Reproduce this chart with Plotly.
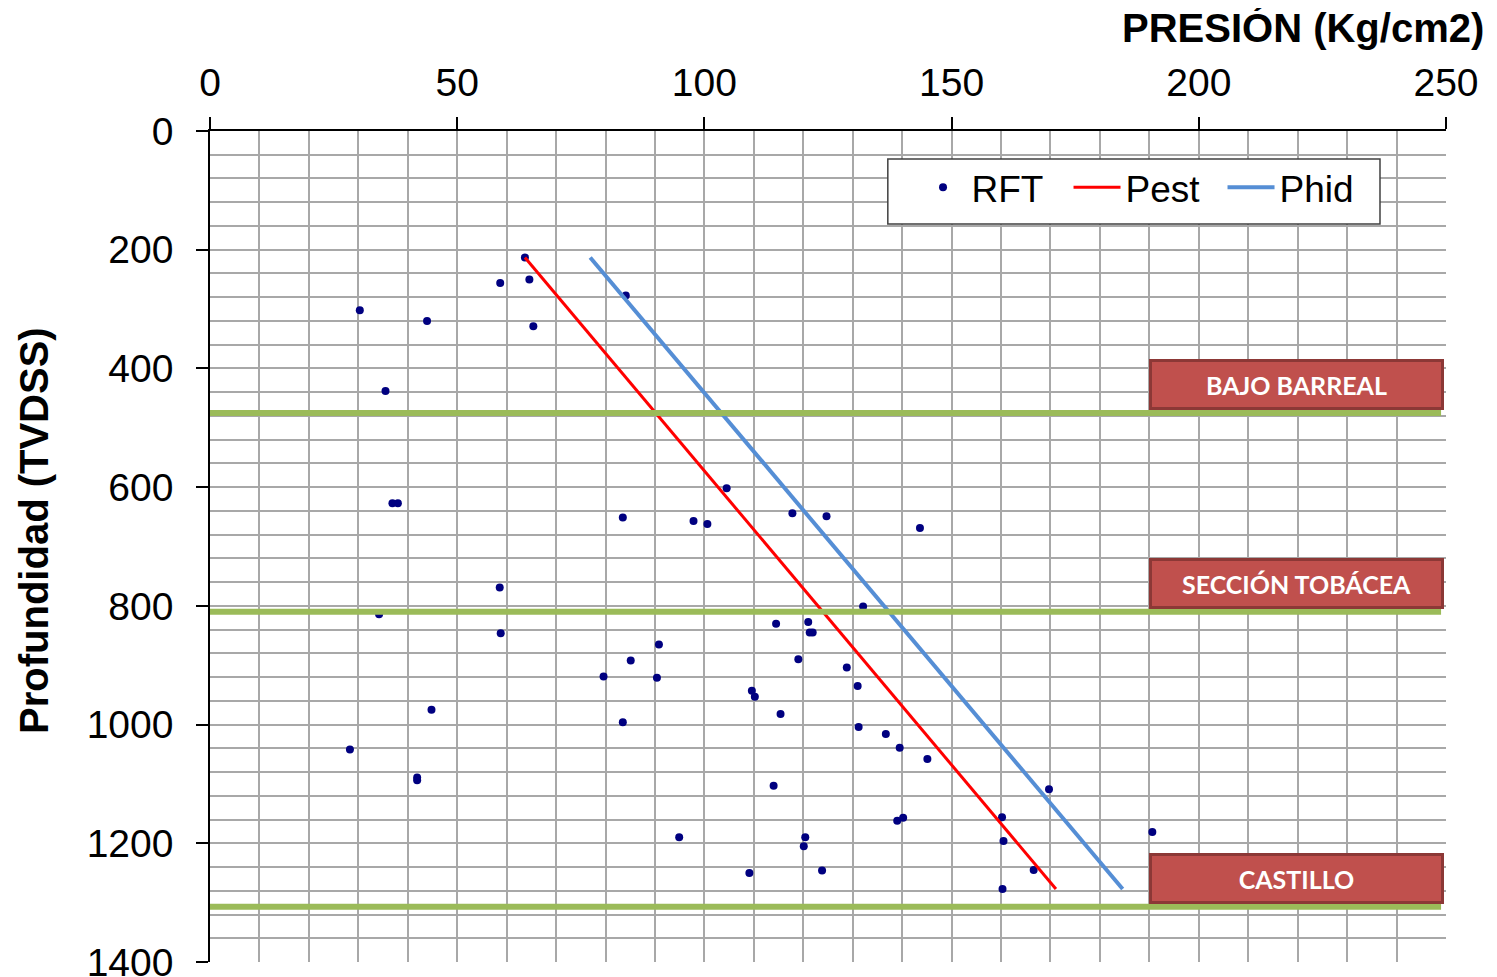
import plotly.graph_objects as go

# RFT pressure points (Kg/cm2) vs depth (TVDSS)
rft_pressure = [
    63.7, 58.7, 64.6, 84.1, 30.3, 43.9, 65.4, 35.5, 104.5, 83.5,
    97.8, 100.6, 117.8, 124.7, 143.6, 36.9, 38.0, 58.6, 34.2, 58.8,
    132.1, 114.5, 121.0, 121.3, 121.9, 90.8, 85.1, 79.6, 90.4, 119.0,
    128.8, 131.0, 109.6, 110.2, 115.4, 83.5, 131.2, 136.7, 139.5, 145.1,
    44.8, 28.3, 41.9, 41.9, 114.0, 169.7, 160.2, 139.0, 140.2, 94.9,
    120.4, 120.1, 160.5, 166.6, 109.1, 123.8, 160.3, 190.6,
]
rft_depth = [
    213, 256, 250, 277, 302, 320, 329, 438, 602, 651,
    657, 662, 644, 649, 669, 627, 627, 769, 814, 846,
    801, 830, 827, 845, 845, 865, 892, 919, 921, 890,
    904, 935, 943, 953, 982, 996, 1004, 1016, 1039, 1058,
    975, 1042, 1089, 1094, 1103, 1109, 1156, 1162, 1157, 1190,
    1190, 1205, 1196, 1245, 1250, 1246, 1277, 1181,
]

# gradient lines (two end points each)
pest_pressure = [63.7, 171.1]
pest_depth = [213, 1277]
phid_pressure = [76.9, 184.6]
phid_depth = [213, 1277]

# formation tops
formation_names = ["BAJO BARREAL", "SECCIÓN TOBÁCEA", "CASTILLO"]
formation_tops = [475, 810, 1307]

_GRID = "#A8A8A8"
_GREEN = "#9BBB59"
_BOX = "#C0504D"
_BOX_EDGE = "#8C3836"
_FONT = "Liberation Sans, Arial, sans-serif"

fig = go.Figure()

fig.add_trace(go.Scatter(
    x=rft_pressure,
    y=rft_depth,
    mode="markers",
    marker=dict(color="#000080", size=8),
    name="RFT",
))

# formation top lines
for top in formation_tops:
    fig.add_shape(
        type="line", xref="x", yref="y",
        x0=0, x1=249, y0=top, y1=top,
        line=dict(color=_GREEN, width=6),
    )

fig.add_trace(go.Scatter(
    x=pest_pressure,
    y=pest_depth,
    mode="lines",
    line=dict(color="#FF0000", width=3),
    name="Pest",
))

fig.add_trace(go.Scatter(
    x=phid_pressure,
    y=phid_depth,
    mode="lines",
    line=dict(color="#558ED5", width=4),
    name="Phid",
))

# formation labels
for name, top in zip(formation_names, formation_tops):
    fig.add_annotation(
        x=219.7, y=top, xref="x", yref="y",
        xanchor="center", yanchor="bottom", yshift=3,
        text=f"<b>{name}</b>",
        showarrow=False,
        font=dict(family="Lato, Open Sans, sans-serif", size=25, color="white"),
        bgcolor=_BOX,
        bordercolor=_BOX_EDGE,
        borderwidth=3,
        borderpad=0,
        width=289,
        height=45,
    )

# legend frame (drawn separately so the entries can sit where they do in the source)
fig.add_shape(
    type="rect", xref="paper", yref="paper",
    x0=0.5484, x1=0.9466, y0=0.888, y1=0.9663,
    fillcolor="white",
    line=dict(color="#404040", width=1.5),
    layer="above",
)

# axis titles
fig.add_annotation(
    x=1.032, y=1.124, xref="paper", yref="paper",
    xanchor="right", yanchor="middle",
    text="<b>PRESIÓN (Kg/cm2)</b>", showarrow=False,
    font=dict(family=_FONT, size=40, color="black"),
)
fig.add_annotation(
    x=-0.143, y=0.519, xref="paper", yref="paper",
    xanchor="center", yanchor="middle", textangle=-90,
    text="<b>Profundidad (TVDSS)</b>", showarrow=False,
    font=dict(family=_FONT, size=40, color="black"),
)

axis_common = dict(
    showline=True,
    linecolor="black",
    linewidth=1.5,
    ticks="outside",
    ticklen=12,
    tickwidth=1.5,
    tickcolor="black",
    showgrid=True,
    gridcolor=_GRID,
    gridwidth=1.5,
    zeroline=False,
    automargin=False,
    ticklabeloverflow="allow",
    tickfont=dict(family=_FONT, size=39, color="black"),
)

fig.update_xaxes(
    range=[0, 250],
    side="top",
    dtick=50,
    tick0=0,
    minor=dict(dtick=10, showgrid=True, gridcolor=_GRID, gridwidth=1.5),
    ticklabelstandoff=6,
    **axis_common,
)
fig.update_yaxes(
    range=[1400, 0],
    dtick=200,
    tick0=0,
    minor=dict(dtick=40, showgrid=True, gridcolor=_GRID, gridwidth=1.5),
    ticklabelstandoff=15,
    **axis_common,
)

fig.update_layout(
    width=1490,
    height=970,
    margin=dict(l=202, r=52, t=123, b=16),
    paper_bgcolor="white",
    plot_bgcolor="white",
    showlegend=True,
    legend=dict(
        orientation="h",
        x=0.570, y=0.969,
        xanchor="left", yanchor="top",
        bgcolor="rgba(0,0,0,0)",
        borderwidth=0,
        font=dict(family=_FONT, size=37, color="black"),
        itemwidth=47,
        entrywidth=92,
    ),
)

fig.write_html("out.html")
